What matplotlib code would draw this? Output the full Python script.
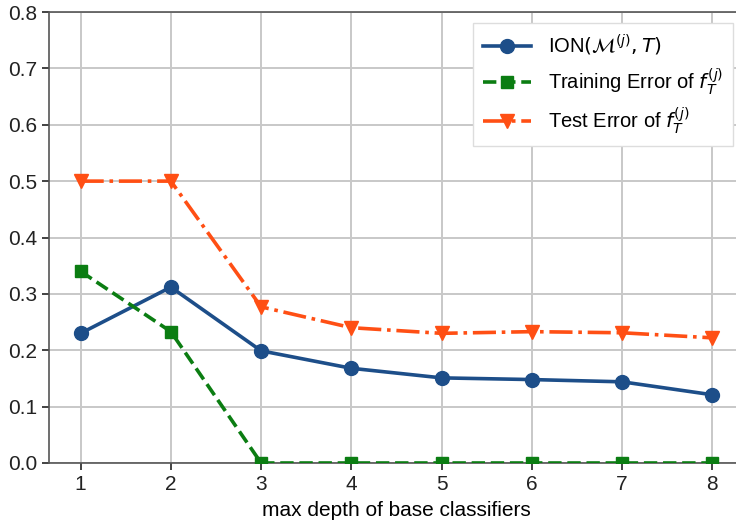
import matplotlib
matplotlib.use("Agg")
import matplotlib.pyplot as plt

depths = [1, 2, 3, 4, 5, 6, 7, 8]
ion = [0.230, 0.312, 0.199, 0.168, 0.151, 0.148, 0.144, 0.121]
train_err = [0.340, 0.233, 0.0, 0.0, 0.0, 0.0, 0.0, 0.0]
test_err = [0.500, 0.500, 0.277, 0.240, 0.230, 0.233, 0.231, 0.222]

plt.rcParams["font.family"] = ["Liberation Sans", "DejaVu Sans"]
plt.rcParams["font.size"] = 14

fig = plt.figure(figsize=(7.36, 5.27), dpi=100)
# axes runs past the right edge (reference is cropped there)
ax = fig.add_axes([49 / 736, (527 - 463) / 527, 695 / 736, 451 / 527])

ax.plot(depths, ion, "-o", color="#1d4e89", lw=2.6, ms=10,
        label=r"ION$(\mathcal{M}^{(j)}, T)$", zorder=3)
ax.plot(depths, train_err, "--s", color="#0b7d12", lw=2.6, ms=9,
        label=r"Training Error of $f_T^{(j)}$", zorder=3)
ax.plot(depths, test_err, "-.v", color="#ff4f14", lw=2.6, ms=10,
        label=r"Test Error of $f_T^{(j)}$", zorder=3)

ax.set_xlim(0.65, 8.35)
ax.set_ylim(0, 0.8)
ax.set_xticks(depths)
ax.set_yticks([0.0, 0.1, 0.2, 0.3, 0.4, 0.5, 0.6, 0.7, 0.8])
ax.grid(True, color="#c8c8c8", lw=1.4)
ax.set_axisbelow(True)
ax.tick_params(labelsize=15, length=5, width=1.2, colors="#222222")
for s in ax.spines.values():
    s.set_color("#555555")
    s.set_linewidth(1.2)

ax.set_xlabel("max depth of base classifiers", fontsize=15, labelpad=5)

leg = ax.legend(loc="upper left", bbox_to_anchor=(473 / 736, 1 - 23 / 527),
                bbox_transform=fig.transFigure, borderaxespad=0,
                fontsize=14.5, handlelength=2.4, borderpad=0.5,
                labelspacing=0.4, fancybox=False, framealpha=1,
                edgecolor="#dddddd")

fig.savefig("out.png", dpi=100)
